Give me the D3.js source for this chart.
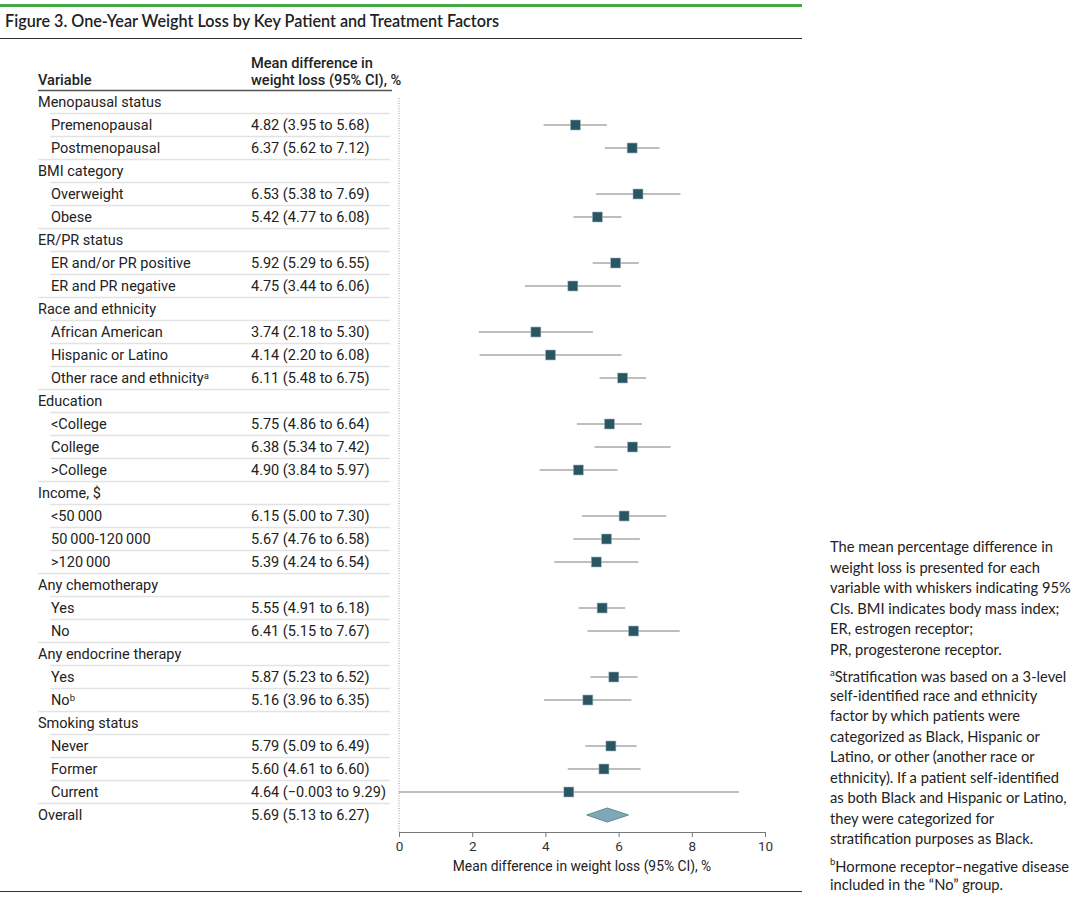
<!DOCTYPE html>
<meta charset="utf-8">
<head>
    <script src="https://d3js.org/d3.v7.min.js"></script>
    <style>
        body { margin: 0; background: #fff; }
        text { fill: #222; }
        .tbl { font-family: Roboto, sans-serif; font-size: 14.5px; }
        .hdr { font-family: Roboto, sans-serif; font-size: 14.6px; font-weight: 500; }
        .note { font-family: Lato, sans-serif; font-size: 14.7px; }
        .axis text { font-family: Roboto, sans-serif; font-size: 13.5px; fill: #333; }
        .axis path, .axis line { stroke: #777; }
    </style>
</head>
<body>
<div id="chart"></div>

<script>
    // rows of the forest plot, top to bottom
    const rowLabels = [
        "Menopausal status", "Premenopausal", "Postmenopausal",
        "BMI category", "Overweight", "Obese",
        "ER/PR status", "ER and/or PR positive", "ER and PR negative",
        "Race and ethnicity", "African American", "Hispanic or Latino", "Other race and ethnicity",
        "Education", "<College", "College", ">College",
        "Income, $", "<50\u2009000", "50\u2009000-120\u2009000", ">120\u2009000",
        "Any chemotherapy", "Yes", "No",
        "Any endocrine therapy", "Yes", "No",
        "Smoking status", "Never", "Former", "Current",
        "Overall"
    ]
    // 0 = group heading, 1 = sub item
    const rowLevel = [0,1,1, 0,1,1, 0,1,1, 0,1,1,1, 0,1,1,1, 0,1,1,1, 0,1,1, 0,1,1, 0,1,1,1, 0]
    const rowNote = {12: "a", 26: "b"}

    const estimate = [null,4.82,6.37, null,6.53,5.42, null,5.92,4.75, null,3.74,4.14,6.11,
        null,5.75,6.38,4.90, null,6.15,5.67,5.39, null,5.55,6.41, null,5.87,5.16,
        null,5.79,5.60,4.64, 5.69]
    const lower = [null,3.95,5.62, null,5.38,4.77, null,5.29,3.44, null,2.18,2.20,5.48,
        null,4.86,5.34,3.84, null,5.00,4.76,4.24, null,4.91,5.15, null,5.23,3.96,
        null,5.09,4.61,-0.003, 5.13]
    const upper = [null,5.68,7.12, null,7.69,6.08, null,6.55,6.06, null,5.30,6.08,6.75,
        null,6.64,7.42,5.97, null,7.30,6.58,6.54, null,6.18,7.67, null,6.52,6.35,
        null,6.49,6.60,9.29, 6.27]

    const xTicks = [0, 2, 4, 6, 8, 10]

    const noteLines = [
        ["The mean percentage difference in", "weight loss is presented for each",
         "variable with whiskers indicating 95%", "CIs. BMI indicates body mass index;",
         "ER, estrogen receptor;", "PR, progesterone receptor."],
        ["aStratification was based on a 3-level", "self-identified race and ethnicity",
         "factor by which patients were", "categorized as Black, Hispanic or",
         "Latino, or other (another race or", "ethnicity). If a patient self-identified",
         "as both Black and Hispanic or Latino,", "they were categorized for",
         "stratification purposes as Black."],
        ["bHormone receptor\u2013negative disease", "included in the \u201cNo\u201d group."]
    ]

    const W = 1080, H = 898
    const svg = d3.select("#chart").append("svg")
        .attr("width", W)
        .attr("height", H)

    // frame lines
    svg.append("rect").attr("x", 0).attr("y", 4).attr("width", 802).attr("height", 3).attr("fill", "#45a845")
    svg.append("line").attr("x1", 0).attr("x2", 802).attr("y1", 38.5).attr("y2", 38.5)
        .attr("stroke", "#333").attr("stroke-width", 1.2)
    svg.append("line").attr("x1", 0).attr("x2", 802).attr("y1", 891.5).attr("y2", 891.5)
        .attr("stroke", "#333").attr("stroke-width", 1.2)

    svg.append("text")
        .attr("x", 5).attr("y", 27)
        .style("font-family", "Lato, sans-serif")
        .style("font-size", "16.2px")
        .style("font-weight", 600)
        .text("Figure 3. One-Year Weight Loss by Key Patient and Treatment Factors")

    // table header
    svg.append("text").attr("class", "hdr").attr("x", 38).attr("y", 85).text("Variable")
    svg.append("text").attr("class", "hdr").attr("x", 251).attr("y", 68).text("Mean difference in")
    svg.append("text").attr("class", "hdr").attr("x", 251).attr("y", 85).text("weight loss (95% CI), %")
    svg.append("line").attr("x1", 38).attr("x2", 392).attr("y1", 90.5).attr("y2", 90.5)
        .attr("stroke", "#555").attr("stroke-width", 1.5)

    const y = d3.scaleLinear().domain([0, rowLabels.length - 1]).range([102, 815])
    const x = d3.scaleLinear().domain([0, 10]).range([399, 765])

    const fmt = v => v < 0 ? "\u2212" + String(Math.abs(v)) : v.toFixed(2)

    const rows = svg.append("g").selectAll("g")
        .data(rowLabels.map((label, i) => ({label, i, level: rowLevel[i], est: estimate[i], lo: lower[i], hi: upper[i]})))
        .join("g")

    // separators above each row
    rows.filter(d => d.i > 0)
        .append("line")
        .attr("x1", d => d.level ? 50 : 38)
        .attr("x2", 390)
        .attr("y1", d => y(d.i) - 11.5)
        .attr("y2", d => y(d.i) - 11.5)
        .attr("stroke", "#e3e3e3")
        .attr("stroke-width", 1.5)

    const lbl = rows.append("text")
        .attr("class", "tbl")
        .attr("x", d => d.level ? 51 : 38)
        .attr("y", d => y(d.i))
        .attr("dy", "0.36em")
        .text(d => d.label)
    lbl.filter(d => rowNote[d.i])
        .append("tspan")
        .attr("dy", "-0.45em")
        .style("font-size", "9.5px")
        .text(d => rowNote[d.i])

    rows.filter(d => d.est != null)
        .append("text")
        .attr("class", "tbl")
        .attr("x", 251)
        .attr("y", d => y(d.i))
        .attr("dy", "0.36em")
        .text(d => `${fmt(d.est)} (${fmt(d.lo)} to ${fmt(d.hi)})`)

    // dotted reference line at zero
    svg.append("line")
        .attr("x1", x(0)).attr("x2", x(0))
        .attr("y1", 98).attr("y2", 832)
        .attr("stroke", "#999")
        .attr("stroke-dasharray", "1,1.5")

    const plotted = rows.filter(d => d.est != null && d.i < rowLabels.length - 1)

    plotted.append("line")
        .attr("x1", d => x(Math.max(0, d.lo)))
        .attr("x2", d => x(d.hi))
        .attr("y1", d => y(d.i))
        .attr("y2", d => y(d.i))
        .attr("stroke", "#a9a9a9")
        .attr("stroke-width", 1.5)

    const sq = 10
    plotted.append("rect")
        .attr("x", d => x(d.est) - sq / 2)
        .attr("y", d => y(d.i) - sq / 2)
        .attr("width", sq)
        .attr("height", sq)
        .attr("fill", "#2a5563")
        .attr("stroke", "#9fb9c1")
        .attr("stroke-width", 0.6)

    // overall diamond
    const last = rowLabels.length - 1
    const dy = y(last)
    svg.append("path")
        .attr("d", `M${x(lower[last])},${dy} L${x(estimate[last])},${dy - 7} L${x(upper[last])},${dy} L${x(estimate[last])},${dy + 7} Z`)
        .attr("fill", "#7ea8b7")
        .attr("stroke", "#5b8b9b")
        .attr("stroke-width", 1)

    // axis
    svg.append("g")
        .attr("class", "axis")
        .attr("transform", "translate(0,832)")
        .call(d3.axisBottom(x).tickValues(xTicks).tickSize(5).tickSizeOuter(0).tickPadding(4))

    svg.append("text")
        .attr("x", x(5)).attr("y", 871)
        .attr("text-anchor", "middle")
        .style("font-family", "Roboto, sans-serif")
        .style("font-size", "13.8px")
        .text("Mean difference in weight loss (95% CI), %")

    // notes on the right
    const lineH = 20.5
    let ny = 552
    noteLines.forEach((para, p) => {
        para.forEach((line, k) => {
            const t = svg.append("text").attr("class", "note").attr("x", 830).attr("y", ny)
            if (p > 0 && k === 0) {
                t.append("tspan").attr("dy", "-0.45em").style("font-size", "9.5px").text(line[0])
                t.append("tspan").attr("dy", "0.45em").text(line.slice(1))
            } else {
                t.text(line)
            }
            ny += lineH
        })
        ny += 5
    })
</script>
</body>
